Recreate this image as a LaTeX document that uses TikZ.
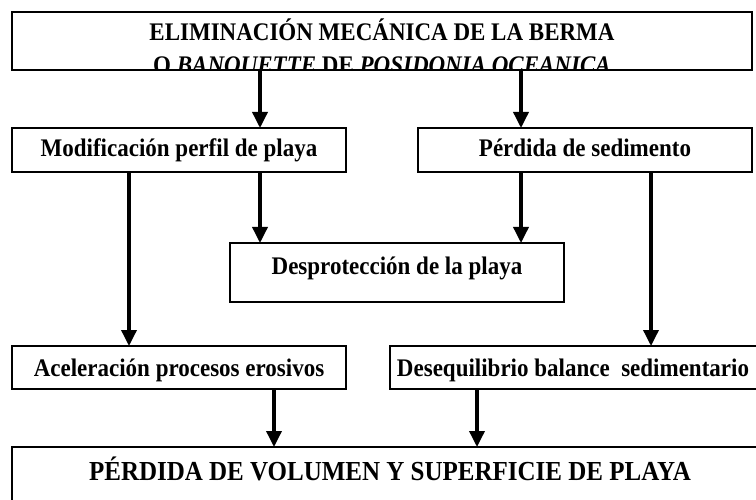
\documentclass[tikz,border=0pt]{standalone}
\usepackage{graphicx}
\usepackage{fontspec}
\setmainfont{Liberation Serif}
\usetikzlibrary{arrows.meta}
\newcommand{\talltxt}[1]{\scalebox{1}[1.1]{#1}}
\begin{document}
\begin{tikzpicture}[x=1pt,y=-1pt,
  box/.style={draw, line width=1.6pt, rectangle, inner sep=0pt, outer sep=0pt},
  txt/.style={inner sep=0pt, anchor=base, font=\bfseries\fontsize{23}{27}\selectfont},
  bigtxt/.style={inner sep=0pt, anchor=base, font=\bfseries\fontsize{25}{29}\selectfont},
  arr/.style={line width=3.5pt, -{Triangle[length=16pt,width=15pt]}}]
\useasboundingbox (0,0) rectangle (756,500);
\clip (0,0) rectangle (756,500);
% boxes
\node[box, line width=2.5pt, minimum width=740pt, minimum height=58pt] (top) at (382,41) {};
\node[box, minimum width=334pt, minimum height=44pt] (mod) at (179,150) {};
\node[box, minimum width=334pt, minimum height=44pt] (per) at (585,150) {};
\node[box, minimum width=334pt, minimum height=59pt] (desp) at (397,272.5) {};
\node[box, minimum width=334pt, minimum height=43pt] (acel) at (179,367.5) {};
\node[box, minimum width=410pt, minimum height=43pt] (deseq) at (595,367.5) {};
\node[box, line width=2pt, minimum width=788pt, minimum height=113pt] (bot) at (406,503.5) {};
% texts
\node[txt] (t1) at (382,41) {\talltxt{ELIMINACIÓN MECÁNICA DE LA BERMA}};
\begin{scope}
\clip (top.north west) rectangle (top.south east);
\node[txt] (t2) at (382,74) {\talltxt{O \textit{BANQUETTE} DE \textit{POSIDONIA OCEANICA}}};
\end{scope}
\node[txt] (tmod) at (179,157) {\talltxt{Modificación perfil de playa}};
\node[txt] (tper) at (585,157) {\talltxt{Pérdida de sedimento}};
\node[txt] (tdesp) at (397,275) {\talltxt{Desprotección de la playa}};
\node[txt] (tacel) at (179,376) {\talltxt{Aceleración procesos erosivos}};
\node[txt] (tdeseq) at (573,376) {\talltxt{Desequilibrio balance\ \ sedimentario}};
\node[bigtxt] (tbot) at (390,480) {\talltxt{PÉRDIDA DE VOLUMEN Y SUPERFICIE DE PLAYA}};
% arrow columns
\coordinate (c1) at (260,0);
\coordinate (c2) at (521,0);
\coordinate (c3) at (129,0);
\coordinate (c4) at (651,0);
\coordinate (c5) at (274,0);
\coordinate (c6) at (477,0);
% connectors
\draw[arr] (top.south -| c1) -- (mod.north -| c1);
\draw[arr] (top.south -| c2) -- (per.north -| c2);
\draw[arr] (mod.south -| c3) -- (acel.north -| c3);
\draw[arr] (mod.south -| c1) -- (desp.north -| c1);
\draw[arr] (per.south -| c2) -- (desp.north -| c2);
\draw[arr] (per.south -| c4) -- (deseq.north -| c4);
\draw[arr] (acel.south -| c5) -- (bot.north -| c5);
\draw[arr] (deseq.south -| c6) -- (bot.north -| c6);
\end{tikzpicture}
\end{document}
